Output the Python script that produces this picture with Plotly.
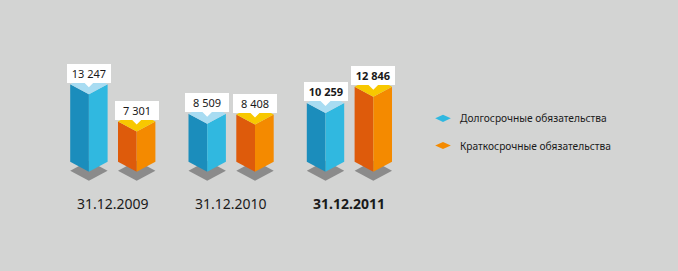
import plotly.graph_objects as go

# ---- data ----
dates = ["31.12.2009", "31.12.2010", "31.12.2011"]
long_term = [13247, 8509, 10259]
short_term = [7301, 8408, 12846]
series_names = ["Долгосрочные обязательства", "Краткосрочные обязательства"]
value_labels_long = ["13 247", "8 509", "10 259"]
value_labels_short = ["7 301", "8 408", "12 846"]

# ---- styling / geometry ----
W, H = 678, 271
BG = "#d3d4d3"
FONT = "Noto Sans"
TXT = "#1a1a1a"
BASE = 850          # value at the bottom of the prisms
U = 160.0           # value units per pixel (vertical)
P0 = 171.7          # pixel row of the baseline
YMAX = BASE + P0 * U
YMIN = YMAX - H * U
D = 10 * U          # isometric vertical offset
S = 9 * U           # shadow drop
HW = 18.7           # half width of a prism
G0, GSTEP, OFF = 112.8, 118.3, 23.9

palettes = [
    dict(left="#1b8dbc", right="#30b8e0", top="#a8dcf2", key="#30b8e0"),
    dict(left="#de5b0b", right="#f48a00", top="#f8c800", key="#f48a00"),
]

fig = go.Figure()
annotations = []


def poly(xs, ys, color):
    fig.add_trace(go.Scatter(x=xs + [xs[0]], y=ys + [ys[0]], fill="toself",
                             fillcolor=color, mode="lines", line=dict(width=0, color=color),
                             hoverinfo="skip", showlegend=False))


for gi, d in enumerate(dates):
    gc = G0 + GSTEP * gi
    bold = gi == len(dates) - 1
    for si, (vals, labs) in enumerate([(long_term, value_labels_long), (short_term, value_labels_short)]):
        cx = gc + (-OFF if si == 0 else OFF)
        v = vals[gi]
        pal = palettes[si]
        # shadow
        poly([cx - HW, cx, cx + HW, cx],
             [BASE + D - S, BASE - S, BASE + D - S, BASE + 2 * D - S], "#8b8b8b")
        # faces
        poly([cx - HW, cx, cx, cx - HW], [BASE + D, BASE, v, v + D], pal["left"])
        poly([cx, cx + HW, cx + HW, cx], [BASE, BASE + D, v + D, v], pal["right"])
        poly([cx - HW, cx, cx + HW, cx], [v + D, v, v + D, v + 2 * D], pal["top"])
        # callout pointer
        poly([cx - 5.5, cx + 5.5, cx], [v + D + 2.5 * U, v + D + 2.5 * U, v + D - 3 * U], "#ffffff")
        txt = labs[gi]
        annotations.append(dict(
            x=cx, y=v + D + 1.5 * U, xref="x", yref="y", xanchor="center", yanchor="bottom",
            text=f"<b>{txt}</b>" if bold else txt, showarrow=False,
            bgcolor="#ffffff", borderpad=2, borderwidth=0, width=40, height=15,
            font=dict(family=FONT, size=11, color=TXT)))
    annotations.append(dict(
        x=gc, y=1 - 203 / H, xref="x", yref="paper", xanchor="center", yanchor="middle",
        text=f"<b>{d}</b>" if bold else d, showarrow=False,
        font=dict(family=FONT, size=14, color=TXT)))

# legend keys (custom)
for si, name in enumerate(series_names):
    py = 118.3 + 27.2 * si
    kx = 443
    kys = [YMAX - py * U, YMAX - (py - 3.6) * U, YMAX - py * U, YMAX - (py + 3.6) * U]
    poly([kx - 7.8, kx, kx + 7.8, kx], kys, palettes[si]["key"])
    annotations.append(dict(
        x=457.5, y=1 - py / H, xref="x", yref="paper", xanchor="left", yanchor="middle",
        text=name, showarrow=False, font=dict(family=FONT, size=10.2, color=TXT)))

fig.update_layout(
    width=W, height=H, autosize=False,
    margin=dict(l=0, r=0, t=0, b=0, pad=0),
    paper_bgcolor=BG, plot_bgcolor=BG,
    xaxis=dict(range=[0, W], visible=False, fixedrange=True),
    yaxis=dict(range=[YMIN, YMAX], visible=False, fixedrange=True),
    annotations=annotations,
    showlegend=False,
)

fig.write_html("out.html", config=dict(displayModeBar=False))
